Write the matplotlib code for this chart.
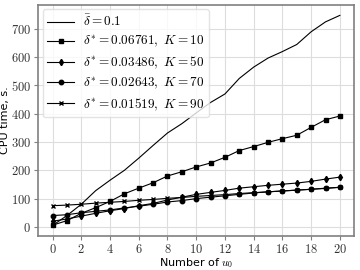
import numpy as np
import matplotlib
matplotlib.use("Agg")
import matplotlib.pyplot as plt
from matplotlib.ticker import FuncFormatter, MultipleLocator

plt.rcParams['mathtext.fontset'] = 'cm'
plt.rcParams['font.family'] = ['DejaVu Sans']

# data
n_u0 = np.arange(0, 21)
t_bar = [5, 40, 80, 128, 165, 200, 243, 288, 332, 365, 403, 440, 470, 525, 565, 597, 620, 645, 690, 725, 748]
t_k10 = [6, 22, 48, 68, 90, 117, 137, 156, 180, 195, 212, 226, 246, 270, 284, 299, 312, 324, 352, 379, 392]
t_k50 = [20, 28, 38, 48, 57, 65, 75, 83, 95, 105, 115, 122, 129, 137, 142, 147, 151, 155, 161, 169, 176]
t_k70 = [40, 43, 50, 55, 60, 67, 73, 80, 88, 93, 100, 105, 110, 115, 120, 124, 127, 130, 133, 136, 140]
t_k90 = [75, 77, 80, 84, 87, 90, 94, 97, 101, 104, 108, 111, 114, 118, 121, 124, 127, 130, 133, 137, 140]

labels = [r'$\bar{\delta} = 0.1$',
          r'$\delta^{*} = 0.06761,\ K = 10$',
          r'$\delta^{*} = 0.03486,\ K = 50$',
          r'$\delta^{*} = 0.02643,\ K = 70$',
          r'$\delta^{*} = 0.01519,\ K = 90$']

fig = plt.figure(figsize=(3.6, 2.7), dpi=100)
ax = fig.add_axes([0.106, 0.126, 0.878, 0.856])

lw = 0.8
ax.plot(n_u0, t_bar, color='black', lw=lw, label=labels[0])
ax.plot(n_u0, t_k10, color='black', lw=lw, marker='s', ms=3.2, label=labels[1])
ax.plot(n_u0, t_k50, color='black', lw=lw, marker='d', ms=3.2, label=labels[2])
ax.plot(n_u0, t_k70, color='black', lw=lw, marker='o', ms=3.2, label=labels[3])
ax.plot(n_u0, t_k90, color='black', lw=lw, marker='x', ms=3.2, label=labels[4])

ax.xaxis.set_major_locator(MultipleLocator(2))
ax.yaxis.set_major_locator(MultipleLocator(100))
fmt = FuncFormatter(lambda v, p: r'$%d$' % v)
ax.xaxis.set_major_formatter(fmt)
ax.yaxis.set_major_formatter(fmt)
ax.tick_params(labelsize=9, length=3, width=0.8, color='#808080', labelcolor='#333333', pad=2)

ax.grid(True, color='#dddddd', lw=0.8)
ax.set_axisbelow(True)
for s in ax.spines.values():
    s.set_color('#808080')
    s.set_linewidth(1.2)

ax.set_xlabel(r'Number of $u_0$', fontsize=8, labelpad=0)
ax.set_ylabel('CPU time, s.', fontsize=8, labelpad=1)

ax.legend(loc='upper left', fontsize=9.5, handlelength=2.0, handletextpad=0.7,
          labelspacing=0.35, borderpad=0.35, borderaxespad=0.35,
          framealpha=0.8, edgecolor='#dddddd', fancybox=True)

fig.savefig('out.png', dpi=100)
